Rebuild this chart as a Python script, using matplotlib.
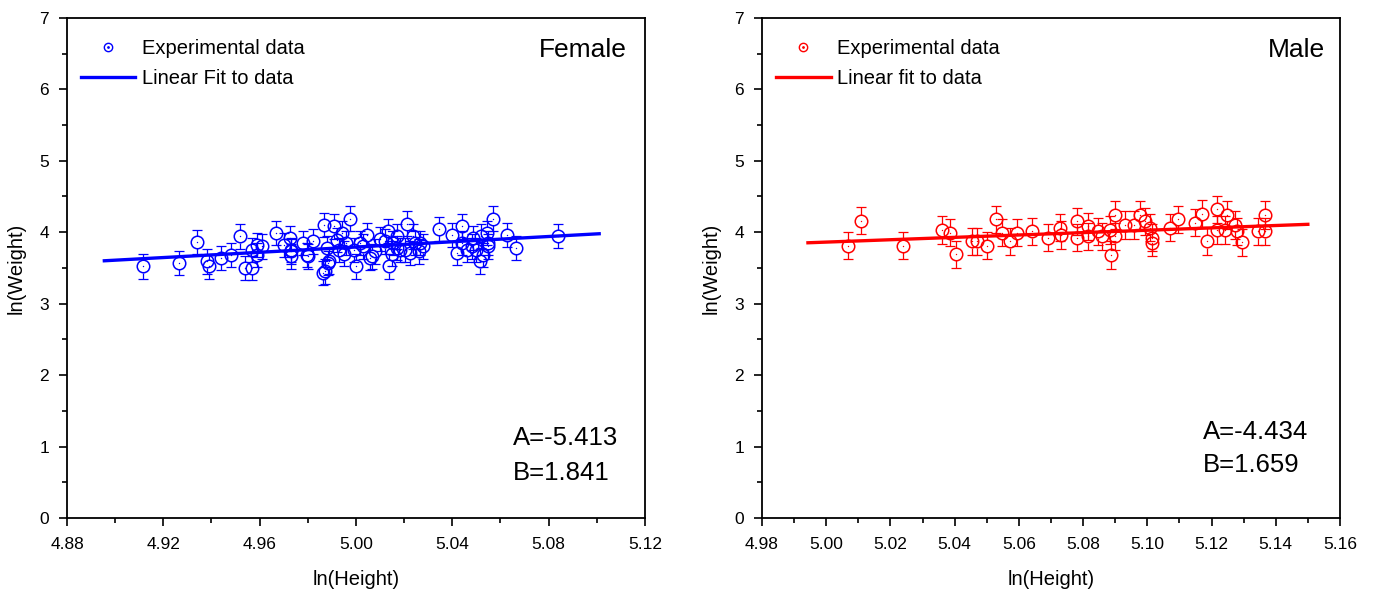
import numpy as np
import matplotlib
matplotlib.use("Agg")
import matplotlib.pyplot as plt
from matplotlib.lines import Line2D
from matplotlib.ticker import MultipleLocator, FormatStrFormatter

plt.rcParams['font.family'] = ['Liberation Sans', 'DejaVu Sans']

################################################################################
# data
female_x = [4.9117, 4.9265, 4.934, 4.938, 4.939, 4.9438, 4.948, 4.952, 4.954, 4.957,
            4.957, 4.959, 4.959, 4.961, 4.9667, 4.970, 4.9726, 4.9729, 4.973, 4.973,
            4.978, 4.9795, 4.980, 4.982, 4.9865, 4.9867, 4.987, 4.988, 4.9885, 4.989,
            4.991, 4.992, 4.993, 4.994, 4.995, 4.996, 4.9975, 4.999, 5.000, 5.0017,
            5.003, 5.0045, 5.006, 5.0066, 5.008, 5.010, 5.012, 5.0134, 5.0138, 5.015,
            5.0155, 5.017, 5.017, 5.0183, 5.0204, 5.021, 5.0225, 5.0238, 5.0245, 5.0263,
            5.0266, 5.028, 5.0346, 5.0398, 5.0418, 5.0439, 5.044, 5.046, 5.048, 5.0487,
            5.050, 5.0515, 5.052, 5.0529, 5.0543, 5.055, 5.055, 5.0568, 5.0626, 5.0665,
            5.084]
female_y = [3.52, 3.57, 3.86, 3.59, 3.52, 3.64, 3.68, 3.94, 3.50, 3.50,
            3.75, 3.82, 3.68, 3.80, 3.99, 3.82, 3.92, 3.73, 3.75, 3.66,
            3.85, 3.68, 3.66, 3.87, 3.43, 4.10, 3.45, 3.78, 3.57, 3.59,
            4.08, 3.89, 3.75, 3.99, 3.70, 3.85, 4.19, 3.75, 3.52, 3.85,
            3.80, 3.96, 3.64, 3.66, 3.73, 3.90, 3.87, 4.02, 3.52, 3.70,
            3.85, 3.94, 3.78, 3.75, 3.75, 4.12, 3.71, 3.94, 3.85, 3.73,
            3.85, 3.80, 4.04, 3.96, 3.71, 4.08, 3.85, 3.75, 3.80, 3.92,
            3.75, 3.59, 3.95, 3.68, 3.99, 3.85, 3.80, 4.19, 3.96, 3.78,
            3.95]
male_x = [5.0069, 5.0107, 5.024, 5.036, 5.0386, 5.0403, 5.0453, 5.0469, 5.050, 5.0528,
          5.0546, 5.0572, 5.0593, 5.0642, 5.0692, 5.0728, 5.073, 5.078, 5.078, 5.0816,
          5.0816, 5.0847, 5.0858, 5.0884, 5.0886, 5.090, 5.090, 5.093, 5.096, 5.0977,
          5.0993, 5.1008, 5.1014, 5.1014, 5.107, 5.1096, 5.1148, 5.1169, 5.1185, 5.1216,
          5.1216, 5.1242, 5.1247, 5.1273, 5.1278, 5.1294, 5.1346, 5.1367, 5.1367]
male_y = [3.81, 4.16, 3.81, 4.03, 3.99, 3.69, 3.87, 3.87, 3.81, 4.18,
          3.99, 3.87, 3.99, 4.01, 3.92, 4.06, 3.96, 4.15, 3.92, 4.08,
          3.94, 4.01, 3.94, 4.03, 3.68, 4.24, 3.94, 4.10, 4.10, 4.24,
          4.15, 4.06, 3.92, 3.85, 4.06, 4.18, 4.13, 4.26, 3.87, 4.32,
          4.03, 4.03, 4.24, 4.10, 4.01, 3.86, 4.01, 4.24, 4.01]

female_err = 0.17
male_err = 0.19
female_fit = (-5.413, 1.841)   # A, B
male_fit = (-4.434, 1.659)
female_fit_range = (4.8955, 5.101)
male_fit_range = (4.9943, 5.150)
################################################################################

def draw_panel(ax, x, y, err, fit, fit_range, color, label_fit, title, xlim, xmajor,
               title_x, ab_pos):
    x = np.asarray(x)
    y = np.asarray(y)
    r = 0.085  # circle radius in y units, stems start at the circle edge
    ax.vlines(x, y + r, y + err, color=color, lw=0.9)
    ax.vlines(x, y - err, y - r, color=color, lw=0.9)
    ax.plot(x, y + err, ls='none', marker='_', ms=7, mew=0.9, color=color)
    ax.plot(x, y - err, ls='none', marker='_', ms=7, mew=0.9, color=color)
    ax.plot(x, y, ls='none', marker='o', ms=9, mfc='none', mec=color, mew=1.1)
    ax.plot(x, y, ls='none', marker='o', ms=1.0, mfc=color, mec=color, mew=0)
    # fitted line
    fx = np.array(fit_range)
    ax.plot(fx, fit[0] + fit[1] * fx, color=color, lw=2.4)

    ax.set_xlim(*xlim)
    ax.set_ylim(0, 7)
    ax.xaxis.set_major_locator(MultipleLocator(xmajor))
    ax.xaxis.set_minor_locator(MultipleLocator(xmajor / 2))
    ax.xaxis.set_major_formatter(FormatStrFormatter('%.2f'))
    ax.yaxis.set_major_locator(MultipleLocator(1))
    ax.yaxis.set_minor_locator(MultipleLocator(0.5))
    ax.tick_params(which='major', direction='out', length=6, width=1.2, labelsize=12.5)
    ax.tick_params(axis='x', which='major', pad=8)
    ax.tick_params(axis='y', which='major', pad=7)
    ax.tick_params(which='minor', direction='out', length=3.5, width=1.2)
    for s in ax.spines.values():
        s.set_linewidth(1.3)
    ax.set_xlabel('ln(Height)', fontsize=14.5, labelpad=13)
    ax.set_ylabel('ln(Weight)', fontsize=14.5, labelpad=10)

    h1 = (Line2D([], [], ls='none', marker='o', ms=6, mfc='none', mec=color, mew=1.0),
          Line2D([], [], ls='none', marker='o', ms=1.0, mfc=color, mec=color))
    h2 = Line2D([], [], color=color, lw=2.4)
    ax.legend([h1, h2], ['Experimental data', label_fit], loc='upper left',
              bbox_to_anchor=(0.0, 0.986), frameon=False, fontsize=14.5,
              handlelength=2.7, handletextpad=0.3, labelspacing=0.55, borderaxespad=0.3)

    ax.text(title_x, 0.935, title, transform=ax.transAxes, ha='right', va='center',
            fontsize=19)
    ax.text(ab_pos[0], ab_pos[1], 'A=%.3f' % fit[0], transform=ax.transAxes, ha='left',
            va='center', fontsize=18.5)
    ax.text(ab_pos[0], ab_pos[2], 'B=%.3f' % fit[1], transform=ax.transAxes, ha='left',
            va='center', fontsize=18.5)


fig = plt.figure(figsize=(13.76, 5.94), dpi=100)
ax1 = fig.add_axes([0.0487, 0.128, 0.420, 0.842])
ax2 = fig.add_axes([0.5538, 0.128, 0.420, 0.842])

draw_panel(ax1, female_x, female_y, female_err, female_fit, female_fit_range, 'blue',
           'Linear Fit to data', 'Female', (4.88, 5.12), 0.04, 0.968, (0.772, 0.16, 0.09))
draw_panel(ax2, male_x, male_y, male_err, male_fit, male_fit_range, 'red',
           'Linear fit to data', 'Male', (4.98, 5.16), 0.02, 0.974, (0.763, 0.172, 0.106))

fig.savefig('out.png', dpi=100)
